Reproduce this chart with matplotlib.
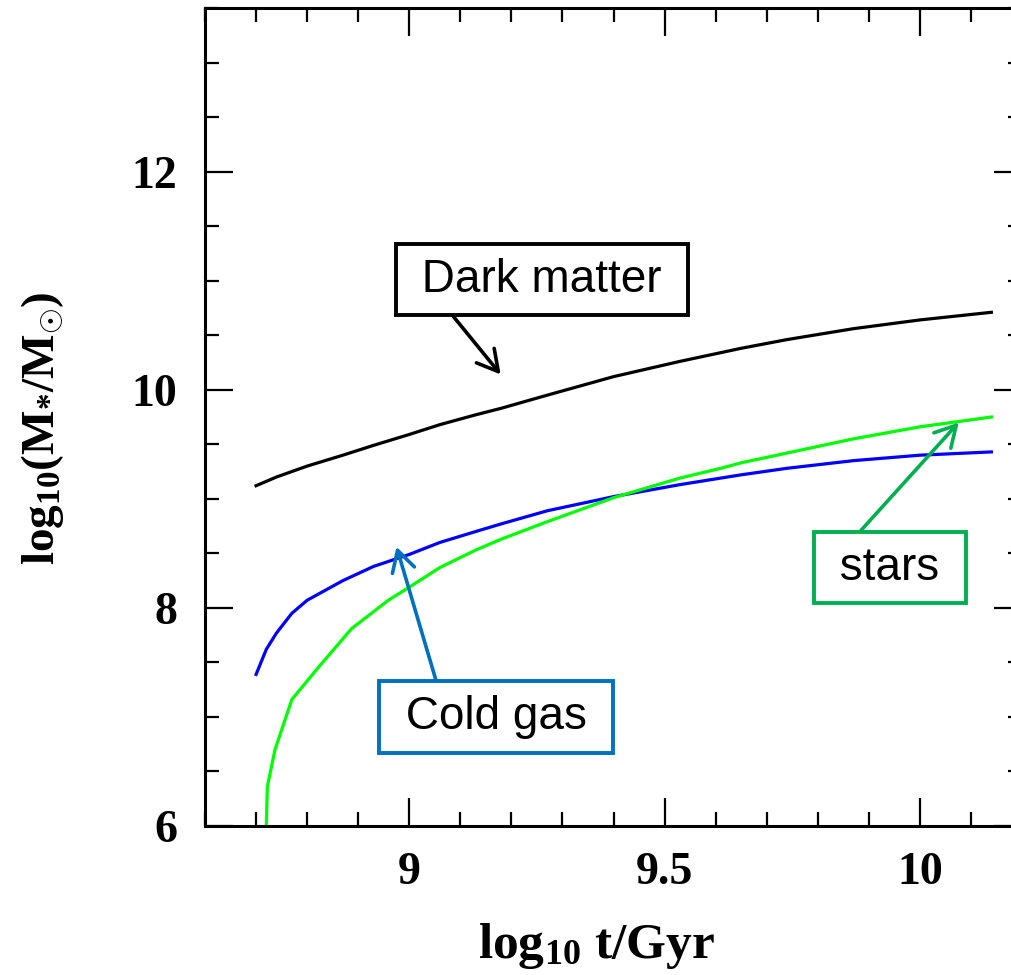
import matplotlib
matplotlib.use("Agg")
import matplotlib.pyplot as plt
from matplotlib.ticker import MultipleLocator

plt.rcParams["mathtext.fontset"] = "custom"
plt.rcParams["mathtext.rm"] = "Liberation Serif:bold"
plt.rcParams["mathtext.it"] = "Liberation Serif:italic:bold"

# log10 t for each curve
t_dm = [8.70, 8.74, 8.80, 8.87, 8.93, 9.00, 9.06, 9.13, 9.18, 9.27, 9.40,
        9.53, 9.61, 9.65, 9.74, 9.87, 10.00, 10.14]
m_dm = [9.12, 9.20, 9.30, 9.40, 9.49, 9.59, 9.68, 9.77, 9.83, 9.95, 10.12,
        10.26, 10.34, 10.38, 10.46, 10.56, 10.64, 10.71]

t_gas = [8.70, 8.72, 8.74, 8.77, 8.80, 8.87, 8.93, 9.00, 9.06, 9.13,
         9.18, 9.27, 9.40, 9.53, 9.61, 9.65, 9.74, 9.87, 10.00, 10.14]
m_gas = [7.39, 7.62, 7.77, 7.95, 8.07, 8.25, 8.38, 8.49, 8.60, 8.70,
         8.77, 8.89, 9.02, 9.13, 9.19, 9.22, 9.28, 9.35, 9.40, 9.43]

t_star = [8.720, 8.722, 8.737, 8.77, 8.823, 8.887, 8.959, 9.00, 9.06, 9.13,
          9.18, 9.27, 9.40, 9.53, 9.61, 9.65, 9.74, 9.87, 10.00, 10.14]
m_star = [6.00, 6.36, 6.70, 7.16, 7.46, 7.81, 8.07, 8.19, 8.37, 8.53,
          8.63, 8.79, 9.01, 9.19, 9.28, 9.33, 9.42, 9.55, 9.66, 9.75]

fig = plt.figure(figsize=(10.12, 9.75), dpi=100)
ax = fig.add_axes([0.2026, 0.1528, 0.8073, 0.839])

ax.plot(t_dm, m_dm, color="black", lw=2.3)
ax.plot(t_gas, m_gas, color="#0000ff", lw=2.3)
ax.plot(t_star, m_star, color="#00ff00", lw=2.3)

ax.set_xlim(8.6, 10.2)
ax.set_ylim(6, 13.5)
ax.xaxis.set_major_locator(MultipleLocator(0.5))
ax.xaxis.set_minor_locator(MultipleLocator(0.1))
ax.yaxis.set_major_locator(MultipleLocator(2))
ax.yaxis.set_minor_locator(MultipleLocator(0.5))
ax.set_xticks([9, 9.5, 10])
ax.set_xticklabels(["9", "9.5", "10"])
ax.set_yticks([6, 8, 10, 12])
ax.set_yticklabels(["6", "8", "10", "12"])

for s in ax.spines.values():
    s.set_linewidth(2.2)
ax.tick_params(which="both", direction="in", top=True, right=True, width=1.6)
ax.tick_params(which="major", length=20)
ax.tick_params(which="minor", length=10)
ax.tick_params(axis="x", which="major", pad=19)
ax.tick_params(axis="y", which="major", pad=20)
for lab in ax.get_xticklabels() + ax.get_yticklabels():
    lab.set_fontfamily("Liberation Serif")
    lab.set_fontweight("bold")
    lab.set_fontsize(33)

fig.text(0.589, 0.0174, r"log$_{10}$ t/Gyr", family="Liberation Serif",
         weight="bold", fontsize=37, ha="center", va="baseline")
fig.text(0.042, 0.561, r"log$_{10}$(M$_{*}$/M$_{\odot}$)", family="Liberation Serif",
         weight="bold", fontsize=34, rotation=90, ha="center", va="center")

# labelled boxes with arrows
def label(text, xy, xytext, color, relpos):
    ax.annotate(" " + text + " ", xy=xy, xytext=xytext, fontsize=33,
                family="Liberation Sans", ha="center", va="center",
                bbox=dict(boxstyle="square,pad=0.3", fc="white", ec=color, lw=2.8),
                arrowprops=dict(arrowstyle="->,head_length=0.45,head_width=0.25",
                                color=color, lw=2.6, shrinkA=0, shrinkB=0,
                                relpos=relpos))

label("Dark matter", (9.179, 10.14), (9.260, 11.01), "black", (0.12, 0))
label("Cold gas", (8.975, 8.56), (9.170, 7.00), "#0070C0", (0.23, 1))
label("stars", (10.076, 9.70), (9.941, 8.37), "#00B050", (0.16, 1))

fig.savefig("out.png", dpi=100)
